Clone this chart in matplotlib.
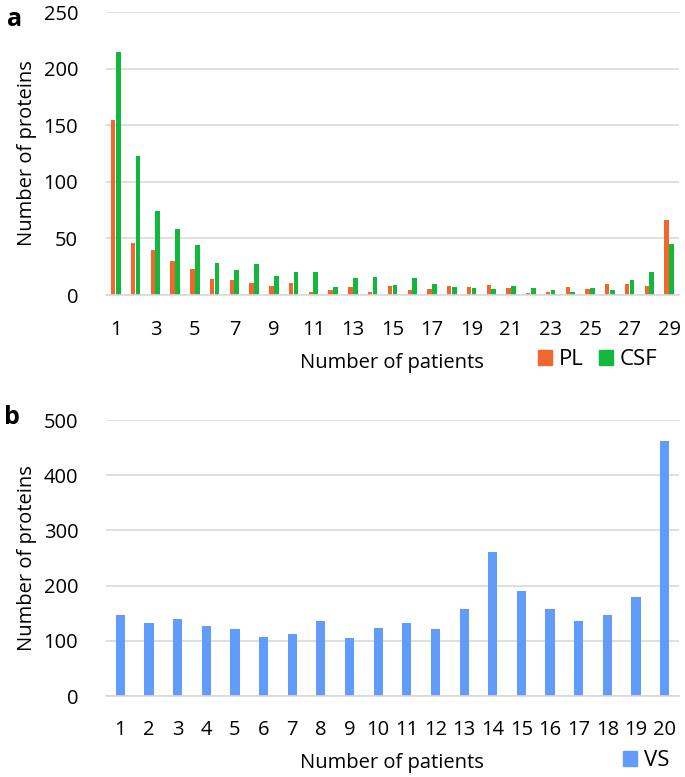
import matplotlib.pyplot as plt
import numpy as np
from matplotlib.patches import Patch

plt.rcParams['font.family'] = ['Open Sans', 'DejaVu Sans']

# panel a: number of patients 1..29
patients_a = list(range(1, 30))
pl = [155, 46, 40, 30, 23, 14, 13, 11, 8, 11, 3, 4, 7, 3, 8, 4, 5, 8, 7, 9,
      6, 2, 3, 7, 5, 10, 10, 8, 66]
csf = [215, 123, 74, 58, 44, 28, 22, 27, 17, 20, 20, 7, 15, 16, 9, 15, 10, 7, 6, 5,
       8, 6, 4, 3, 6, 4, 13, 20, 45]

# panel b: number of patients 1..20
patients_b = list(range(1, 21))
vs = [146, 132, 139, 127, 121, 107, 112, 136, 105, 123, 132, 121, 158, 261, 191,
      157, 135, 147, 179, 462]

c_pl = '#F0672F'
c_csf = '#12B83B'
c_vs = '#619CFB'
grid_c = '#D9D9D9'
fs = 14.5
leg_fs = 16

fig = plt.figure(figsize=(6.85, 7.77), dpi=100)
ax1 = fig.add_axes([106 / 685, 1 - 295 / 777, 573 / 685, 283 / 777])
ax2 = fig.add_axes([106 / 685, 1 - 696 / 777, 573 / 685, 276 / 777])


def style(ax, xpad):
    for s in ['top', 'right', 'left']:
        ax.spines[s].set_visible(False)
    ax.spines['bottom'].set_color(grid_c)
    ax.spines['bottom'].set_linewidth(1.2)
    ax.yaxis.grid(True, color=grid_c, linewidth=1.2)
    ax.set_axisbelow(True)
    ax.tick_params(length=0, labelsize=fs)
    ax.tick_params(axis='x', pad=xpad)
    ax.tick_params(axis='y', pad=20)
    ax.yaxis.set_label_coords(-0.12, 0.5)


x = np.arange(len(patients_a))
ax1.bar(x - 0.13, pl, 0.22, color=c_pl)
ax1.bar(x + 0.12, csf, 0.24, color=c_csf)
ax1.set_xlim(-0.5, len(patients_a) - 0.5)
ax1.set_ylim(0, 250)
ax1.set_yticks([0, 50, 100, 150, 200, 250])
ax1.set_xticks(x[::2])
ax1.set_xticklabels([str(p) for p in patients_a[::2]])
ax1.set_ylabel('Number of proteins', fontsize=fs)
style(ax1, 18)

xb = np.arange(len(patients_b))
ax2.bar(xb, vs, 0.32, color=c_vs)
ax2.set_xlim(-0.5, len(patients_b) - 0.5)
ax2.set_ylim(0, 500)
ax2.set_yticks([0, 100, 200, 300, 400, 500])
ax2.set_xticks(xb)
ax2.set_xticklabels([str(p) for p in patients_b])
ax2.set_ylabel('Number of proteins', fontsize=fs)
style(ax2, 17)

fig.text(392 / 685, 1 - 363 / 777, 'Number of patients', ha='center', va='center', fontsize=fs)
fig.text(392 / 685, 1 - 763 / 777, 'Number of patients', ha='center', va='center', fontsize=fs)

fig.legend(handles=[Patch(color=c_pl, label='PL'), Patch(color=c_csf, label='CSF')],
           loc='center left', bbox_to_anchor=(538 / 685, 1 - 360 / 777), ncol=2, frameon=False,
           fontsize=leg_fs, handlelength=0.63, handleheight=0.63, handletextpad=0.3,
           columnspacing=0.72, borderpad=0, borderaxespad=0)
fig.legend(handles=[Patch(color=c_vs, label='VS')],
           loc='center left', bbox_to_anchor=(623 / 685, 1 - 761 / 777), frameon=False,
           fontsize=leg_fs, handlelength=0.63, handleheight=0.63, handletextpad=0.3,
           borderpad=0, borderaxespad=0)

fig.text(7 / 685, 1 - 20 / 777, 'a', fontsize=18, fontweight='bold', va='center')
fig.text(4 / 685, 1 - 418 / 777, 'b', fontsize=18, fontweight='bold', va='center')

fig.savefig('out.png', dpi=100)
